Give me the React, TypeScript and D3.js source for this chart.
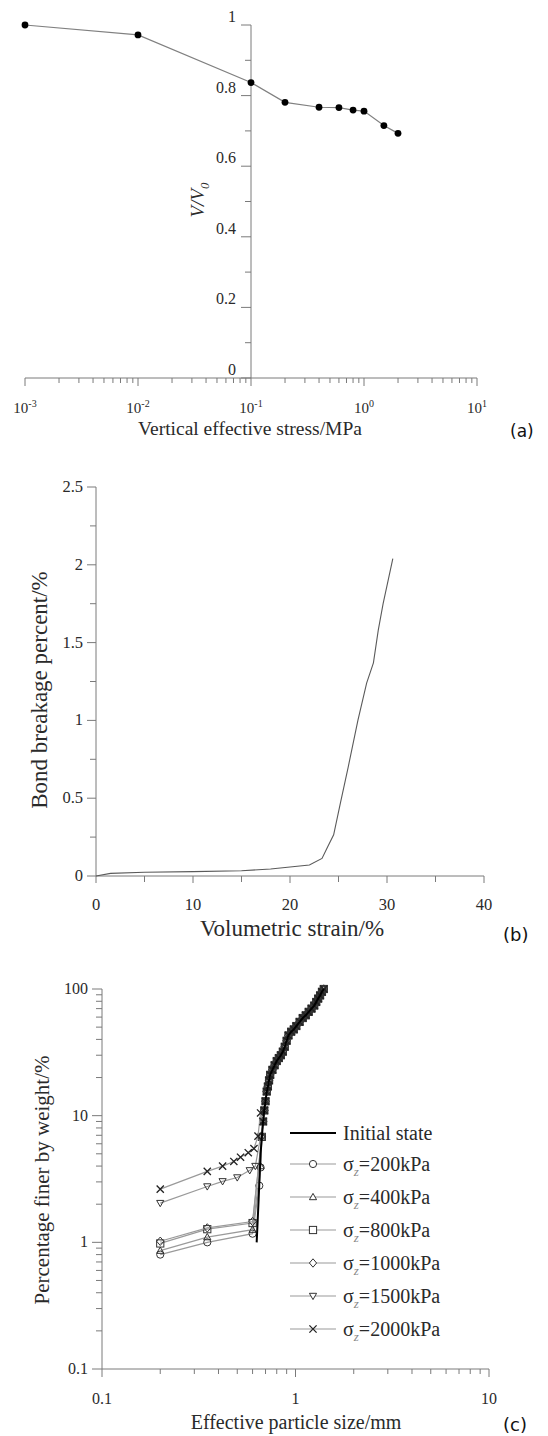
import React from 'react';
import * as d3 from 'd3';

// (a) compression curve
const stressMPa = [0.001, 0.01, 0.1, 0.2, 0.4, 0.6, 0.8, 1.0, 1.5, 2.0];
const volumeRatio = [1.0, 0.972, 0.837, 0.781, 0.767, 0.766, 0.759, 0.756, 0.715, 0.693];

// (b) bond breakage vs volumetric strain
const volStrain = [0, 1.5, 5, 10, 15, 18, 20, 22, 23.3, 23.9, 24.5, 25.2, 26.0, 27.0, 27.9, 28.6, 29.1, 29.6, 30.6];
const bondBreakage = [0, 0.017, 0.024, 0.028, 0.034, 0.045, 0.058, 0.071, 0.113, 0.19, 0.265, 0.47, 0.7, 1.0, 1.24, 1.37, 1.58, 1.75, 2.04];

// (c) grading curves - shared upper branch
const upperSize = [0.68, 0.69, 0.7, 0.71, 0.72, 0.73, 0.74, 0.76, 0.78, 0.8, 0.82, 0.84, 0.86, 0.88, 0.9, 0.92, 0.95, 0.98, 1.01, 1.05, 1.09, 1.13, 1.17, 1.21, 1.25, 1.28, 1.31, 1.34, 1.37, 1.4];
const upperFiner = [9, 11, 13, 15.5, 17, 19, 21, 23, 25, 27, 28.5, 30, 32, 35, 39, 43, 46, 48, 51, 55, 59, 62, 66, 70, 74, 79, 84, 89, 95, 100];

const initialSize = [0.63, 0.645, 0.66];
const initialFiner = [1.0, 2.2, 5.0];

const s200Size = [0.2, 0.35, 0.6, 0.65, 0.66, 0.67];
const s200Finer = [0.8, 1.0, 1.17, 2.8, 3.9, 6.8];
const s400Size = [0.2, 0.35, 0.6, 0.66, 0.67];
const s400Finer = [0.86, 1.1, 1.26, 4.0, 7.0];
const s800Size = [0.2, 0.35, 0.6, 0.67];
const s800Finer = [0.98, 1.27, 1.42, 6.8];
const s1000Size = [0.2, 0.35, 0.6, 0.67];
const s1000Finer = [1.02, 1.3, 1.46, 6.9];
const s1500Size = [0.2, 0.35, 0.42, 0.5, 0.58, 0.62, 0.66];
const s1500Finer = [2.04, 2.76, 3.03, 3.25, 3.7, 4.0, 6.8];
const s2000Size = [0.2, 0.35, 0.42, 0.48, 0.52, 0.57, 0.61, 0.64, 0.66];
const s2000Finer = [2.63, 3.63, 4.0, 4.35, 4.7, 5.1, 5.5, 6.9, 10.5];

const seriesLabels = ['200kPa', '400kPa', '800kPa', '1000kPa', '1500kPa', '2000kPa'];
const seriesMarkers = ['circle', 'triangle', 'square', 'diamond', 'triangleDown', 'cross'];

const aTicks = [0, 0.2, 0.4, 0.6, 0.8, 1];
const aTickLabels = ['0', '0.2', '0.4', '0.6', '0.8', '1'];
const aDecades = [0.001, 0.01, 0.1, 1, 10];
const aDecadeExp = ['-3', '-2', '-1', '0', '1'];
const bYTicks = [0, 0.5, 1, 1.5, 2, 2.5];
const bYLabels = ['0', '0.5', '1', '1.5', '2', '2.5'];
const bXTicks = [0, 10, 20, 30, 40];
const cYTicks = [0.1, 1, 10, 100];
const cYLabels = ['0.1', '1', '10', '100'];
const cXTicks = [0.1, 1, 10];
const cXLabels = ['0.1', '1', '10'];

const serif = "'Liberation Serif', 'Times New Roman', serif";
const axisCol = '#7a7a7a';
const textCol = '#2a2a2a';

const logMinor = (lo: number, hi: number) => {
  const out: number[] = [];
  for (let d = lo; d < hi; d *= 10) {
    for (let k = 2; k <= 9; k++) out.push(d * k);
  }
  return out;
};

const Marker = ({ type, x, y, fill = 'none' }: { type: string; x: number; y: number; fill?: string }) => {
  const s = 3.6;
  const st = { stroke: '#333', strokeWidth: 1, fill };
  if (type === 'circle') return <circle cx={x} cy={y} r={s} {...st} />;
  if (type === 'square') return <rect x={x - s} y={y - s} width={2 * s} height={2 * s} {...st} />;
  if (type === 'diamond') return <path d={`M${x},${y - s - 0.6}L${x + s},${y}L${x},${y + s + 0.6}L${x - s},${y}Z`} {...st} />;
  if (type === 'triangle') return <path d={`M${x},${y - s}L${x + s},${y + s * 0.75}L${x - s},${y + s * 0.75}Z`} {...st} />;
  if (type === 'triangleDown') return <path d={`M${x},${y + s}L${x + s},${y - s * 0.75}L${x - s},${y - s * 0.75}Z`} {...st} />;
  return <path d={`M${x - s},${y - s}L${x + s},${y + s}M${x + s},${y - s}L${x - s},${y + s}`} stroke="#222" strokeWidth={1.3} fill="none" />;
};

const PanelA = () => {
  const x = d3.scaleLog().domain([1e-3, 1e1]).range([25, 477]);
  const y = d3.scaleLinear().domain([0, 1]).range([378, 25]);
  const ax = x(0.1);
  const pts = stressMPa.map((s, i) => [s, volumeRatio[i]] as [number, number]);
  const line = d3.line<[number, number]>().x(d => x(d[0])).y(d => y(d[1]));
  const minorY = [0.1, 0.3, 0.5, 0.7, 0.9];
  return (
    <g>
      <line x1={x(1e-3)} x2={x(1e1)} y1={y(0)} y2={y(0)} stroke={axisCol} />
      <line x1={ax} x2={ax} y1={y(0)} y2={y(1)} stroke={axisCol} />
      {aDecades.map(d => <line key={d} x1={x(d)} x2={x(d)} y1={y(0)} y2={y(0) + 8} stroke={axisCol} />)}
      {logMinor(1e-3, 10).map(d => <line key={'m' + d} x1={x(d)} x2={x(d)} y1={y(0)} y2={y(0) + 5} stroke={axisCol} />)}
      {aDecades.map((d, i) => (
        <text key={'l' + d} x={x(d)} y={413} textAnchor="middle" fontFamily={serif} fontSize={15} fill={textCol}>
          10<tspan dy={-6} fontSize={10}>{aDecadeExp[i]}</tspan>
        </text>
      ))}
      {aTicks.map(v => <line key={'y' + v} x1={ax - 10} x2={ax} y1={y(v)} y2={y(v)} stroke={axisCol} />)}
      {minorY.map(v => <line key={'ym' + v} x1={ax - 6} x2={ax} y1={y(v)} y2={y(v)} stroke={axisCol} />)}
      {aTicks.map((v, i) => (
        <text key={'yl' + v} x={ax - 15} y={y(v) - 3} textAnchor="end" fontFamily={serif} fontSize={16} fill={textCol}>{aTickLabels[i]}</text>
      ))}
      <text transform="translate(204,200) rotate(-90)" textAnchor="middle" fontFamily={serif} fontSize={19} fontStyle="italic" fill={textCol}>
        V/V<tspan dy={5} fontSize={13}>0</tspan>
      </text>
      <text x={250} y={435} textAnchor="middle" fontFamily={serif} fontSize={19.5} fill={textCol}>Vertical effective stress/MPa</text>
      <text x={510} y={437} fontFamily="'DejaVu Sans', sans-serif" fontSize={17} fill="#111">(a)</text>
      <path d={line(pts) || ''} fill="none" stroke="#808080" strokeWidth={1.2} />
      {pts.map((p, i) => <circle key={'p' + i} cx={x(p[0])} cy={y(p[1])} r={3.4} fill="#000" />)}
    </g>
  );
};

const PanelB = () => {
  const x = d3.scaleLinear().domain([0, 40]).range([96, 484]);
  const y = d3.scaleLinear().domain([0, 2.5]).range([876, 487]);
  const pts = volStrain.map((s, i) => [s, bondBreakage[i]] as [number, number]);
  const line = d3.line<[number, number]>().x(d => x(d[0])).y(d => y(d[1]));
  const minorY = [0.25, 0.75, 1.25, 1.75, 2.25];
  const minorX = [5, 15, 25, 35];
  return (
    <g>
      <line x1={x(0)} x2={x(40)} y1={y(0)} y2={y(0)} stroke={axisCol} />
      <line x1={x(0)} x2={x(0)} y1={y(0)} y2={y(2.5)} stroke={axisCol} />
      {bXTicks.map(v => <line key={v} x1={x(v)} x2={x(v)} y1={y(0)} y2={y(0) + 7} stroke={axisCol} />)}
      {minorX.map(v => <line key={'m' + v} x1={x(v)} x2={x(v)} y1={y(0)} y2={y(0) + 6} stroke={axisCol} />)}
      {bXTicks.map(v => (
        <text key={'l' + v} x={x(v)} y={910} textAnchor="middle" fontFamily={serif} fontSize={16.5} fill={textCol}>{v}</text>
      ))}
      {bYTicks.map(v => <line key={'y' + v} x1={x(0) - 9} x2={x(0)} y1={y(v)} y2={y(v)} stroke={axisCol} />)}
      {minorY.map(v => <line key={'ym' + v} x1={x(0) - 6} x2={x(0)} y1={y(v)} y2={y(v)} stroke={axisCol} />)}
      {bYTicks.map((v, i) => (
        <text key={'yl' + v} x={x(0) - 13} y={y(v) + 5} textAnchor="end" fontFamily={serif} fontSize={16.5} fill={textCol}>{bYLabels[i]}</text>
      ))}
      <text transform="translate(47,690) rotate(-90)" textAnchor="middle" fontFamily={serif} fontSize={23} fill={textCol}>Bond breakage percent/%</text>
      <text x={292} y={936} textAnchor="middle" fontFamily={serif} fontSize={23} fill={textCol}>Volumetric strain/%</text>
      <text x={503} y={941} fontFamily="'DejaVu Sans', sans-serif" fontSize={18} fill="#111">(b)</text>
      <path d={line(pts) || ''} fill="none" stroke="#5a5a5a" strokeWidth={1.1} />
    </g>
  );
};

const PanelC = () => {
  const x = d3.scaleLog().domain([0.1, 10]).range([102, 489]);
  const y = d3.scaleLog().domain([0.1, 100]).range([1369, 989]);
  const line = d3.line<[number, number]>().x(d => x(d[0])).y(d => y(d[1]));
  const upper = upperSize.map((s, i) => [s, upperFiner[i]] as [number, number]);
  const sizes = [s200Size, s400Size, s800Size, s1000Size, s1500Size, s2000Size];
  const finers = [s200Finer, s400Finer, s800Finer, s1000Finer, s1500Finer, s2000Finer];
  const series = seriesLabels.map((label, k) => ({
    label,
    marker: seriesMarkers[k],
    pts: [...sizes[k].map((s, i) => [s, finers[k][i]] as [number, number]), ...upper],
  }));
  const initial = [...initialSize.map((s, i) => [s, initialFiner[i]] as [number, number]), ...upper];
  const legendY = [1133, 1164, 1197, 1230, 1263, 1296, 1329];
  return (
    <g>
      <line x1={x(0.1)} x2={x(10)} y1={y(0.1)} y2={y(0.1)} stroke={axisCol} />
      <line x1={x(0.1)} x2={x(0.1)} y1={y(0.1)} y2={y(100)} stroke={axisCol} />
      {cXTicks.map(v => <line key={v} x1={x(v)} x2={x(v)} y1={y(0.1)} y2={y(0.1) + 8} stroke={axisCol} />)}
      {logMinor(0.1, 10).map(v => <line key={'m' + v} x1={x(v)} x2={x(v)} y1={y(0.1)} y2={y(0.1) + 5} stroke={axisCol} />)}
      {cXTicks.map((v, i) => (
        <text key={'l' + v} x={x(v)} y={1404} textAnchor="middle" fontFamily={serif} fontSize={16} fill={textCol}>{cXLabels[i]}</text>
      ))}
      {cYTicks.map(v => <line key={'y' + v} x1={x(0.1) - 10} x2={x(0.1)} y1={y(v)} y2={y(v)} stroke={axisCol} />)}
      {logMinor(0.1, 100).map(v => <line key={'ym' + v} x1={x(0.1) - 6} x2={x(0.1)} y1={y(v)} y2={y(v)} stroke={axisCol} />)}
      {cYTicks.map((v, i) => (
        <text key={'yl' + v} x={x(0.1) - 14} y={y(v) + 5} textAnchor="end" fontFamily={serif} fontSize={16} fill={textCol}>{cYLabels[i]}</text>
      ))}
      <text transform="translate(49,1180) rotate(-90)" textAnchor="middle" fontFamily={serif} fontSize={21} fill={textCol}>Percentage finer by weight/%</text>
      <text x={296} y={1429} textAnchor="middle" fontFamily={serif} fontSize={20} fill={textCol}>Effective particle size/mm</text>
      <text x={503} y={1431} fontFamily="'DejaVu Sans', sans-serif" fontSize={18} fill="#111">(c)</text>

      {series.map(s => (
        <g key={s.label}>
          <path d={line(s.pts) || ''} fill="none" stroke="#9a9a9a" strokeWidth={1.2} />
          {s.pts.map((p, i) => <Marker key={i} type={s.marker} x={x(p[0])} y={y(p[1])} />)}
        </g>
      ))}
      <path d={line(initial) || ''} fill="none" stroke="#000" strokeWidth={2} />

      <line x1={290} x2={336} y1={legendY[0]} y2={legendY[0]} stroke="#000" strokeWidth={2} />
      <text x={343} y={legendY[0] + 7} fontFamily={serif} fontSize={20} fill={textCol}>Initial state</text>
      {series.map((s, k) => (
        <g key={'lg' + s.label}>
          <line x1={290} x2={336} y1={legendY[k + 1]} y2={legendY[k + 1]} stroke="#9a9a9a" strokeWidth={1.2} />
          <Marker type={s.marker} x={313} y={legendY[k + 1]} fill="#fff" />
          <text x={343} y={legendY[k + 1] + 7} fontFamily={serif} fontSize={20} fill={textCol}>
            σ<tspan dy={5} fontSize={13} fontStyle="italic" fill="#888">z</tspan><tspan dy={-5}>={s.label}</tspan>
          </text>
        </g>
      ))}
    </g>
  );
};

export default function App() {
  return (
    <svg width={548} height={1436} viewBox="0 0 548 1436" style={{ position: 'absolute', left: 0, top: 0, background: '#fff' }}>
      <PanelA />
      <PanelB />
      <PanelC />
    </svg>
  );
}
